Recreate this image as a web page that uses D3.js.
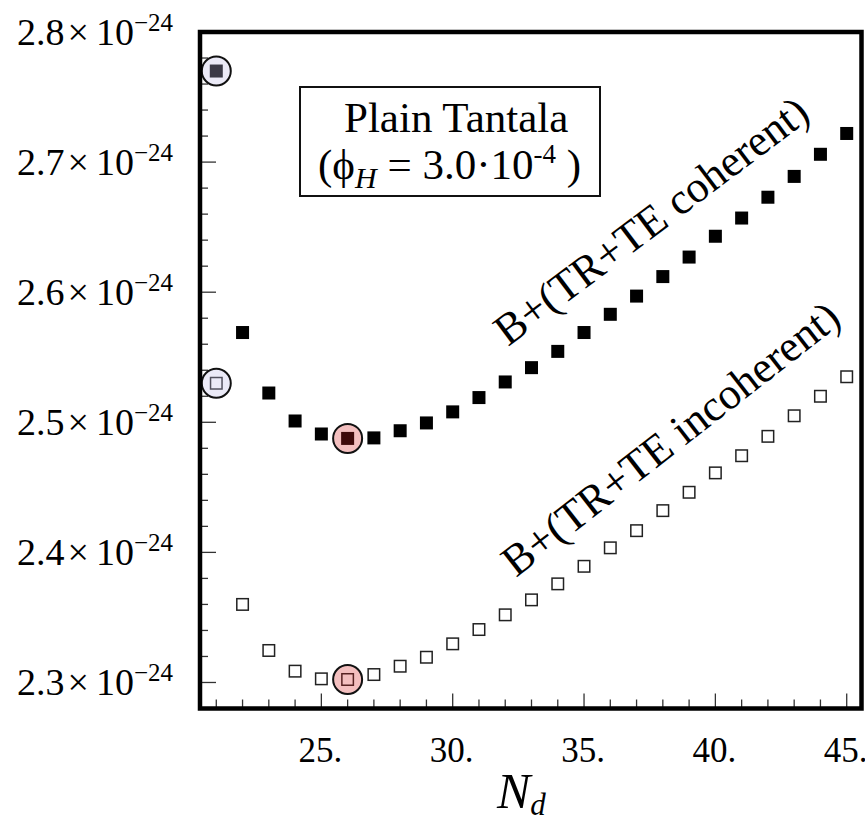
<!DOCTYPE html>
<html>
<head>
<meta charset="utf-8">
<script src="https://cdn.jsdelivr.net/npm/d3@7"></script>
<style>
  body { margin: 0; background: #fff; }
  text { font-family: "Liberation Serif", "Times New Roman", serif; fill: #000; }
</style>
</head>
<body>
<svg></svg>
<script>
let nd = [21, 22, 23, 24, 25, 26, 27, 28, 29, 30, 31, 32, 33, 34, 35, 36, 37, 38, 39, 40, 41, 42, 43, 44, 45]
let coherent = [2.770, 2.569, 2.5225, 2.501, 2.491, 2.4876, 2.488, 2.4935, 2.4995, 2.508, 2.519, 2.531, 2.542,
                2.5545, 2.569, 2.583, 2.597, 2.612, 2.627, 2.643, 2.657, 2.673, 2.689, 2.706, 2.722]
let incoherent = [2.530, 2.360, 2.3246, 2.3087, 2.3028, 2.3023, 2.3061, 2.3125, 2.3194, 2.3297, 2.3407, 2.352, 2.3635,
                  2.3758, 2.3893, 2.4035, 2.4167, 2.4321, 2.4462, 2.4611, 2.4743, 2.4892, 2.505, 2.520, 2.535]
let circledNd = [21, 26]
let circleFill = ['rgba(190,188,228,0.31)', 'rgba(215,35,35,0.29)']
let xTicks = [25, 30, 35, 40, 45]
let yTicks = [2.3, 2.4, 2.5, 2.6, 2.7, 2.8]

let width = 865
let height = 824
let pLeft = 200, pRight = 861.5, pTop = 32, pBottom = 708.5

let svg = d3.select('svg').attr('width', width).attr('height', height)

let xScale = d3.scaleLinear().domain([20.38, 45.563]).range([pLeft, pRight])
let yScale = d3.scaleLinear().domain([2.28, 2.8]).range([pBottom, pTop])

// ticks (inward), minor + major
let drawTicks = () => {
    let xMinor = d3.range(21, 46)
    svg.append('g').selectAll('line')
        .data(xMinor)
        .enter()
        .append('line')
        .attr('x1', d => xScale(d)).attr('x2', d => xScale(d))
        .attr('y1', pBottom)
        .attr('y2', d => pBottom - (xTicks.includes(d) ? 15 : 9))
        .attr('stroke', '#333').attr('stroke-width', 1.3)

    let yMinor = d3.range(0, 26).map(i => +(2.3 + i * 0.02).toFixed(2))
    svg.append('g').selectAll('line')
        .data(yMinor)
        .enter()
        .append('line')
        .attr('y1', d => yScale(d)).attr('y2', d => yScale(d))
        .attr('x1', pLeft)
        .attr('x2', d => pLeft + (yTicks.some(t => Math.abs(t - d) < 1e-6) ? 16 : 8))
        .attr('stroke', '#333').attr('stroke-width', 1.3)
}

let drawLabels = () => {
    svg.append('g').selectAll('text')
        .data(xTicks)
        .enter()
        .append('text')
        .attr('x', d => xScale(d) - 1)
        .attr('y', pBottom + 53)
        .attr('text-anchor', 'middle')
        .attr('font-size', 35)
        .text(d => d + '.')

    let yl = svg.append('g').selectAll('text')
        .data(yTicks)
        .enter()
        .append('text')
        .attr('x', 17)
        .attr('y', d => yScale(d) + 12.5)
        .attr('font-size', 38)
    yl.append('tspan').text(d => d.toFixed(1))
    yl.append('tspan').attr('dx', 3).text('×')
    yl.append('tspan').attr('dx', 7).text('10')
    yl.append('tspan').attr('dy', -14).attr('font-size', 25).text('\u221224')

    let xl = svg.append('text')
        .attr('x', 497).attr('y', 808)
        .attr('font-size', 50).attr('font-style', 'italic')
    xl.append('tspan').text('N')
    xl.append('tspan').attr('dy', 7).attr('font-size', 31).text('d')
}

let drawPoints = () => {
    let s = 13
    svg.append('g').selectAll('rect')
        .data(nd)
        .enter()
        .append('rect')
        .attr('x', (d, i) => xScale(d) - s / 2)
        .attr('y', (d, i) => yScale(coherent[i]) - s / 2)
        .attr('width', s).attr('height', s)
        .attr('fill', '#000')

    svg.append('g').selectAll('rect')
        .data(nd)
        .enter()
        .append('rect')
        .attr('x', (d, i) => xScale(d) - (s - 1.5) / 2)
        .attr('y', (d, i) => yScale(incoherent[i]) - (s - 1.5) / 2)
        .attr('width', s - 1.5).attr('height', s - 1.5)
        .attr('fill', '#fff')
        .attr('stroke', '#222').attr('stroke-width', 1.5)

    circledNd.forEach((n, k) => {
        let i = nd.indexOf(n)
        svg.append('g').selectAll('circle')
            .data([coherent[i], incoherent[i]])
            .enter()
            .append('circle')
            .attr('cx', xScale(n))
            .attr('cy', d => yScale(d))
            .attr('r', 14.5)
            .attr('fill', circleFill[k])
            .attr('stroke', '#111').attr('stroke-width', 2)
    })
}

let drawLegend = () => {
    svg.append('rect')
        .attr('x', 300).attr('y', 87)
        .attr('width', 300).attr('height', 109)
        .attr('fill', '#fff')
        .attr('stroke', '#111').attr('stroke-width', 2)

    svg.append('text')
        .attr('x', 344).attr('y', 132)
        .attr('font-size', 43)
        .text('Plain Tantala')

    let t = svg.append('text')
        .attr('x', 318).attr('y', 179)
        .attr('font-size', 43)
    t.append('tspan').text('(\u03d5')
    t.append('tspan').attr('dy', 9).attr('font-size', 30).attr('font-style', 'italic').text('H')
    t.append('tspan').attr('dy', -9).text(' = 3.0\u00b710')
    t.append('tspan').attr('dy', -16).attr('font-size', 27).text('-4')
    t.append('tspan').attr('dy', 16).text(' )')
}

let drawCurveLabels = () => {
    svg.append('text')
        .attr('transform', 'translate(508,347) rotate(-37)')
        .attr('font-size', 44)
        .text('B+(TR+TE coherent)')

    svg.append('text')
        .attr('transform', 'translate(516,578) rotate(-38)')
        .attr('font-size', 44)
        .text('B+(TR+TE incoherent)')
}

let drawFrame = () => {
    svg.append('rect')
        .attr('x', pLeft).attr('y', pTop)
        .attr('width', pRight - pLeft).attr('height', pBottom - pTop)
        .attr('fill', 'none')
        .attr('stroke', '#000').attr('stroke-width', 4.5)
}

drawTicks()
drawLegend()
drawCurveLabels()
drawPoints()
drawLabels()
drawFrame()
</script>
</body>
</html>
